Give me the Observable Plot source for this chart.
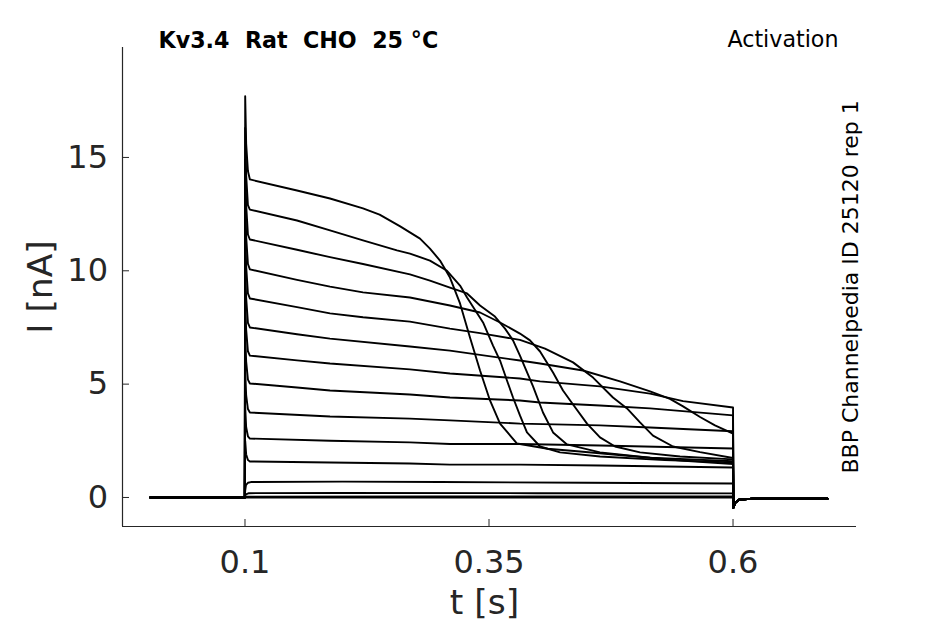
<!DOCTYPE html>
<html>
<head>
<meta charset="utf-8">
<script src="https://cdn.jsdelivr.net/npm/d3@7"></script>
<script src="https://cdn.jsdelivr.net/npm/@observablehq/plot@0.6"></script>
<style>
  html, body { margin: 0; padding: 0; background: #ffffff; }
  #chart { width: 945px; height: 624px; }
</style>
</head>
<body>
<div id="chart"></div>
<script>
// ---- axis settings ----
const xDomain = [-0.0255, 0.7265];
const yDomain = [-1.28, 19.85];
const xTicks = [0.1, 0.35, 0.6];
const xTickLabels = ["0.1", "0.35", "0.6"];
const yTicks = [0, 5, 10, 15];
const yTickLabels = ["0", "5", "10", "15"];

// ---- texts ----
const titleText = "Kv3.4\u00a0\u00a0Rat\u00a0\u00a0CHO\u00a0\u00a025\u00a0°C";
const protocolText = "Activation";
const sourceText = "BBP Channelpedia ID 25120 rep 1";
const xLabel = "t [s]";
const yLabel = "I [nA]";

// ---- shared holding segments (current at holding potential) ----
const baselineBefore = [[0.003, 0], [0.0998, 0]];
const tailAfter = [[0.6004, -0.45], [0.602, -0.25], [0.606, -0.1], [0.62, -0.05], [0.697, -0.05]];

// ---- recorded traces during the step: [t (s), I (nA)] ----
const traceA = [[0.1002,17.7],[0.1012,15.6],[0.103,14.4],[0.105,14.03],[0.1533,13.54],[0.1871,13.19],[0.2209,12.75],[0.2379,12.48],[0.259,11.96],[0.2793,11.42],[0.2895,10.98],[0.2998,10.45],[0.31,9.7],[0.3203,8.56],[0.3305,7.06],[0.3408,5.6],[0.351,4.28],[0.3613,3.26],[0.3787,2.38],[0.41,2.15],[0.4432,2.03],[0.5,1.81],[0.55,1.62],[0.6,1.48]];
const traceB = [[0.1002,16.3],[0.1012,14.2],[0.103,12.9],[0.105,12.7],[0.1533,12.22],[0.1871,11.78],[0.2209,11.34],[0.2557,10.9],[0.269,10.76],[0.2895,10.45],[0.307,10.0],[0.3203,9.35],[0.3275,8.82],[0.3439,7.72],[0.3541,6.7],[0.3613,6.04],[0.3684,5.16],[0.3746,4.41],[0.3817,3.62],[0.3889,2.87],[0.4023,2.25],[0.4228,1.99],[0.4637,1.81],[0.53,1.65],[0.6,1.55]];
const traceC = [[0.1002,14.9],[0.1012,12.9],[0.103,11.6],[0.105,11.38],[0.1533,10.93],[0.1871,10.6],[0.2209,10.3],[0.269,9.84],[0.2895,9.57],[0.31,9.26],[0.3275,9.0],[0.3408,8.47],[0.3561,7.98],[0.3664,7.45],[0.3746,6.93],[0.3817,6.26],[0.3951,4.9],[0.4053,3.75],[0.4156,2.87],[0.4299,2.34],[0.4637,1.99],[0.515,1.76],[0.6,1.6]];
const traceD = [[0.1002,13.4],[0.1012,11.5],[0.103,10.3],[0.105,10.06],[0.1533,9.6],[0.1871,9.3],[0.2209,9.05],[0.269,8.82],[0.31,8.47],[0.3408,8.16],[0.3613,7.72],[0.3817,7.23],[0.392,6.93],[0.4023,6.44],[0.4156,5.51],[0.4258,4.72],[0.4361,4.1],[0.4504,3.26],[0.4637,2.65],[0.4791,2.25],[0.5047,1.99],[0.5457,1.81],[0.6,1.68]];
const traceE = [[0.1002,11.8],[0.1012,10.2],[0.103,9.0],[0.105,8.78],[0.1533,8.4],[0.1871,8.12],[0.2209,7.95],[0.269,7.76],[0.31,7.45],[0.3408,7.25],[0.3817,6.95],[0.4074,6.57],[0.4361,5.96],[0.4566,5.29],[0.477,4.41],[0.4914,3.93],[0.5047,3.31],[0.518,2.73],[0.5385,2.25],[0.5662,2.0],[0.6,1.74]];
const traceF = [[0.1002,10.2],[0.1012,8.8],[0.103,7.7],[0.105,7.5],[0.1533,7.2],[0.1871,7.01],[0.269,6.66],[0.31,6.48],[0.3817,6.04],[0.4023,5.91],[0.4463,5.6],[0.4842,5.12],[0.515,4.68],[0.5354,4.35],[0.5488,4.02],[0.5662,3.55],[0.5815,3.18],[0.6,2.82]];
const traceG = [[0.1002,8.7],[0.1012,7.4],[0.103,6.45],[0.105,6.26],[0.1533,6.05],[0.1871,5.91],[0.269,5.65],[0.31,5.47],[0.3817,5.25],[0.4023,5.12],[0.4637,4.9],[0.515,4.58],[0.5488,4.25],[0.6,3.97]];
const traceH = [[0.1002,7.2],[0.1012,6.0],[0.103,5.2],[0.105,5.03],[0.1533,4.85],[0.1871,4.72],[0.269,4.54],[0.31,4.41],[0.3817,4.28],[0.4023,4.19],[0.4637,4.06],[0.515,3.93],[0.6,3.62]];
const traceI = [[0.1002,5.6],[0.1012,4.5],[0.103,3.9],[0.105,3.75],[0.1871,3.57],[0.269,3.48],[0.31,3.4],[0.3817,3.26],[0.4637,3.18],[0.515,3.09],[0.6,2.92]];
const traceJ = [[0.1002,4.0],[0.1012,3.1],[0.103,2.7],[0.105,2.6],[0.1871,2.5],[0.269,2.43],[0.31,2.36],[0.3817,2.36],[0.4637,2.29],[0.6,2.16]];
const traceK = [[0.1002,2.5],[0.1012,1.9],[0.103,1.65],[0.105,1.59],[0.1871,1.54],[0.269,1.5],[0.31,1.45],[0.3817,1.45],[0.4637,1.41],[0.6,1.32]];
const traceL = [[0.1002,0.3],[0.101,0.55],[0.103,0.65],[0.106,0.68],[0.2,0.7],[0.3,0.68],[0.45,0.65],[0.6,0.62]];
const traceM = [[0.1002,0.08],[0.101,0.14],[0.104,0.19],[0.2,0.2],[0.4,0.19],[0.6,0.18]];
const traceN = [[0.1002,0.03],[0.3,0.05],[0.6,0.05]];
const traceO = [[0.1002,0],[0.6,0]];

const traces = [
  ["A", traceA], ["B", traceB], ["C", traceC], ["D", traceD], ["E", traceE],
  ["F", traceF], ["G", traceG], ["H", traceH], ["I", traceI], ["J", traceJ],
  ["K", traceK], ["L", traceL], ["M", traceM], ["N", traceN], ["O", traceO]
];

const rows = traces.flatMap(([name, pts]) =>
  [...baselineBefore, ...pts, ...tailAfter].map(([t, I]) => ({name, t, I}))
);

const axisColor = "#262626";

const chart = Plot.plot({
  width: 945,
  height: 624,
  marginLeft: 122,
  marginRight: 89,
  marginTop: 47,
  marginBottom: 98,
  x: {domain: xDomain},
  y: {domain: yDomain},
  style: {fontFamily: "DejaVu Sans", background: "#ffffff", overflow: "visible"},
  marks: [
    Plot.ruleX([xDomain[0]], {stroke: axisColor, strokeWidth: 1.2}),
    Plot.ruleY([yDomain[0]], {stroke: axisColor, strokeWidth: 1.2}),
    // inward tick marks
    Plot.tickX(xTicks, {x: d => d, insetTop: 472, stroke: axisColor, strokeWidth: 1}),
    Plot.tickY(yTicks, {y: d => d, insetRight: 727, stroke: axisColor, strokeWidth: 1}),
    Plot.axisX({
      ticks: xTicks,
      tickFormat: d => xTickLabels[xTicks.indexOf(d)],
      tickSize: 0,
      tickPadding: 23.6,
      fontSize: 32,
      fill: axisColor,
      label: null
    }),
    Plot.axisY({
      ticks: yTicks,
      tickFormat: d => yTickLabels[yTicks.indexOf(d)],
      tickSize: 0,
      tickPadding: 14.5,
      fontSize: 32,
      fill: axisColor,
      label: null
    }),
    Plot.line(rows, {x: "t", y: "I", z: "name", stroke: "#000000", strokeWidth: 1.9}),
    Plot.text([titleText], {frameAnchor: "top-left", dx: 36, dy: 0, textAnchor: "start", lineAnchor: "bottom", fontSize: 22.2, fontWeight: "bold", fill: "#000000"}),
    Plot.text([protocolText], {frameAnchor: "top-right", dx: -18, dy: -1, textAnchor: "end", lineAnchor: "bottom", fontSize: 22.2, fill: "#000000"}),
    Plot.text([sourceText], {frameAnchor: "bottom-right", dx: 1, dy: -53, rotate: -90, textAnchor: "start", lineAnchor: "bottom", fontSize: 22, fill: "#000000"}),
    Plot.text([xLabel], {frameAnchor: "bottom", dx: -5, dy: 87, textAnchor: "middle", lineAnchor: "bottom", fontSize: 34.5, fill: axisColor}),
    Plot.text([yLabel], {frameAnchor: "left", dx: -82, rotate: -90, textAnchor: "middle", lineAnchor: "middle", fontSize: 34.5, fill: axisColor})
  ]
});

document.getElementById("chart").appendChild(chart);
</script>
</body>
</html>
